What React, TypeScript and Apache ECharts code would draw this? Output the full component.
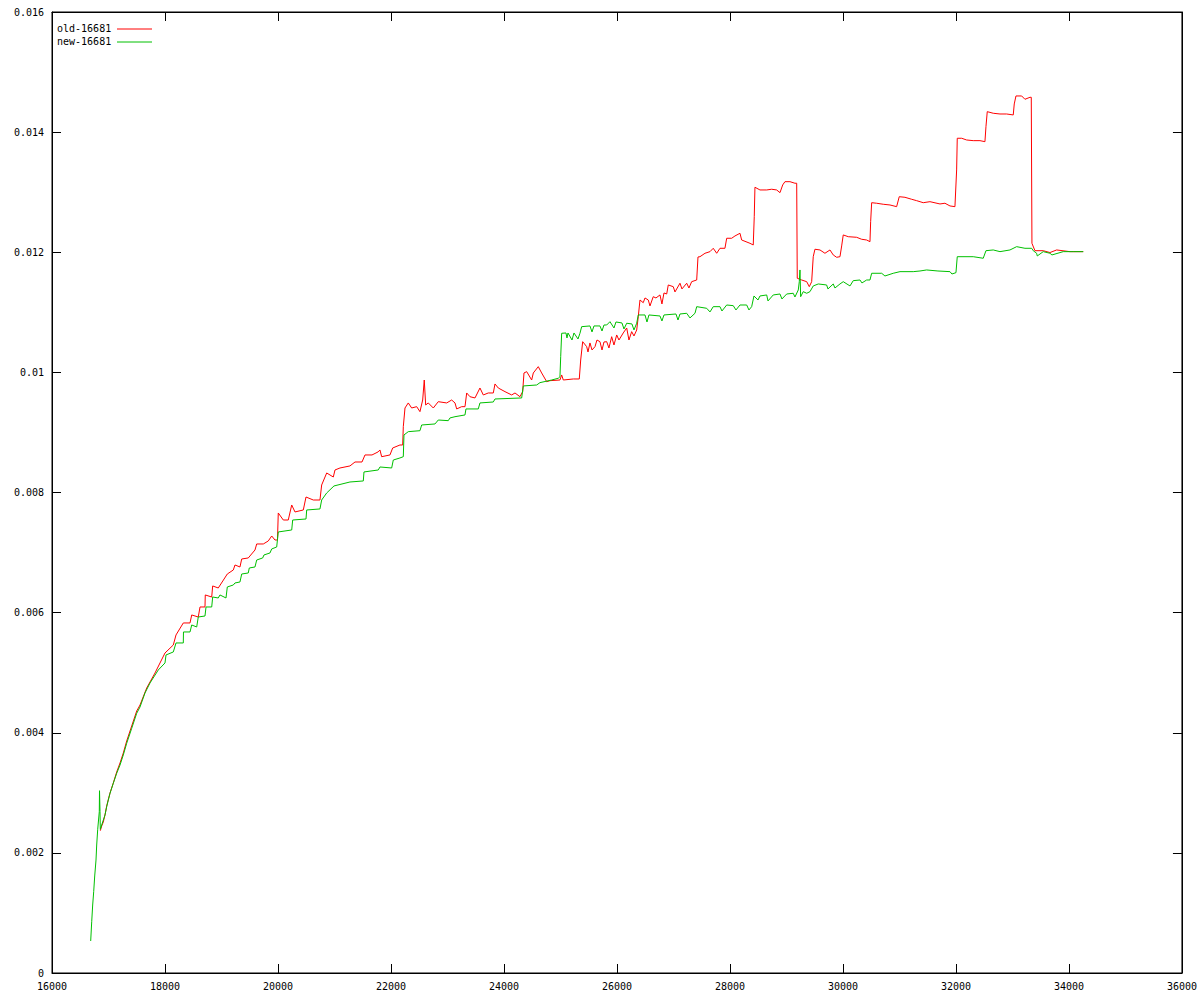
import React, { useEffect, useRef } from "react";
import * as echarts from "echarts";

// Axis ranges and tick labels
const X_MIN = 16000;
const X_MAX = 36000;
const X_STEP = 2000;
const Y_MIN = 0;
const Y_MAX = 0.016;
const Y_STEP = 0.002;

const SERIES_NAMES = ["old-16681", "new-16681"];
const SERIES_COLORS = ["#ff0000", "#00c000"];

// old-16681 : [x, y]
const OLD_16681: [number, number][] = [
  [16855, 0.002369], [16880, 0.002448], [16908, 0.002514], [16938, 0.002631], [16968, 0.002781],
  [17027, 0.002997], [17085, 0.003164], [17145, 0.003347], [17204, 0.003497], [17262, 0.003663],
  [17322, 0.003863], [17411, 0.004113], [17499, 0.004362], [17558, 0.004462], [17676, 0.004745],
  [17823, 0.004995], [18000, 0.005328], [18147, 0.005461], [18195, 0.005628], [18324, 0.005828],
  [18443, 0.005828], [18473, 0.005961], [18589, 0.005927], [18620, 0.006094], [18708, 0.006094],
  [18713, 0.006294], [18827, 0.00626], [18844, 0.006444], [18943, 0.00641], [19103, 0.006643],
  [19209, 0.00671], [19239, 0.006793], [19327, 0.00676], [19358, 0.006893], [19474, 0.00691],
  [19593, 0.007043], [19623, 0.007143], [19740, 0.007143], [19828, 0.007193], [19889, 0.007276],
  [19947, 0.007209], [19991, 0.007209], [20005, 0.007659], [20094, 0.007542], [20182, 0.007542],
  [20243, 0.007792], [20301, 0.007676], [20448, 0.007709], [20496, 0.007925], [20625, 0.007875],
  [20743, 0.007875], [20773, 0.008125], [20862, 0.008325], [20979, 0.008258], [21009, 0.008375],
  [21097, 0.008408], [21274, 0.008442], [21363, 0.008508], [21487, 0.008508], [21540, 0.008625],
  [21664, 0.008625], [21770, 0.008675], [21805, 0.008708], [21835, 0.008596], [21982, 0.008625],
  [22030, 0.008741], [22159, 0.008791], [22207, 0.008791], [22218, 0.009096], [22248, 0.009407],
  [22306, 0.009491], [22366, 0.009407], [22455, 0.009429], [22513, 0.009346], [22561, 0.00954],
  [22589, 0.009873], [22614, 0.009457], [22660, 0.009491], [22749, 0.009407], [22837, 0.009512],
  [22986, 0.009491], [23074, 0.00954], [23133, 0.009491], [23163, 0.009391], [23251, 0.009429],
  [23310, 0.009429], [23340, 0.009657], [23398, 0.009595], [23487, 0.009574], [23575, 0.00974],
  [23634, 0.009624], [23722, 0.009657], [23811, 0.009657], [23841, 0.009807], [23899, 0.00974],
  [24018, 0.009679], [24136, 0.009624], [24195, 0.009657], [24283, 0.009595], [24331, 0.009679],
  [24354, 0.00999], [24402, 0.010012], [24490, 0.009873], [24519, 0.00999], [24607, 0.010095],
  [24667, 0.00999], [24756, 0.009845], [24814, 0.009862], [24991, 0.009873], [25021, 0.009957],
  [25050, 0.009873], [25227, 0.00989], [25333, 0.00989], [25358, 0.010206], [25393, 0.010511],
  [25464, 0.010428], [25487, 0.01034], [25522, 0.01049], [25558, 0.010373], [25611, 0.010428],
  [25646, 0.010539], [25699, 0.010511], [25735, 0.010373], [25770, 0.010506], [25818, 0.010511],
  [25858, 0.010406], [25906, 0.010594], [25947, 0.010456], [25995, 0.010623], [26035, 0.010539],
  [26111, 0.010656], [26172, 0.010739], [26212, 0.010539], [26260, 0.010678], [26301, 0.010606],
  [26349, 0.010706], [26377, 0.010927], [26407, 0.011205], [26465, 0.01116], [26496, 0.011239],
  [26554, 0.011205], [26584, 0.011106], [26642, 0.01126], [26690, 0.011239], [26761, 0.011289],
  [26796, 0.011139], [26832, 0.011322], [26880, 0.011305], [26908, 0.011455], [26996, 0.011427],
  [27027, 0.011339], [27115, 0.011484], [27150, 0.011389], [27234, 0.011484], [27274, 0.011405],
  [27322, 0.01151], [27411, 0.011538], [27434, 0.011921], [27469, 0.011926], [27558, 0.011983],
  [27646, 0.01201], [27704, 0.012066], [27765, 0.011983], [27823, 0.012066], [27911, 0.012066],
  [27942, 0.012233], [28030, 0.012233], [28088, 0.012271], [28177, 0.012316], [28207, 0.012204],
  [28354, 0.012149], [28412, 0.012121], [28430, 0.012592], [28442, 0.013082], [28531, 0.013037],
  [28650, 0.013037], [28738, 0.013049], [28827, 0.013037], [28885, 0.012992], [28933, 0.01312],
  [28973, 0.013175], [29062, 0.013175], [29150, 0.013149], [29181, 0.013149], [29191, 0.011567],
  [29269, 0.011538], [29358, 0.01151], [29404, 0.011427], [29446, 0.01151], [29474, 0.011926],
  [29504, 0.01205], [29593, 0.012038], [29681, 0.011983], [29770, 0.012038], [29828, 0.011955],
  [29888, 0.011916], [29947, 0.011926], [29977, 0.012105], [30005, 0.012288], [30094, 0.012259],
  [30242, 0.012249], [30331, 0.012216], [30419, 0.012204], [30478, 0.012176], [30490, 0.012509],
  [30508, 0.012825], [30596, 0.012816], [30713, 0.012799], [30832, 0.012787], [30950, 0.012759],
  [30996, 0.012925], [31097, 0.012915], [31216, 0.012882], [31304, 0.012859], [31421, 0.012825],
  [31540, 0.012842], [31717, 0.012804], [31805, 0.012816], [31894, 0.012771], [31982, 0.012759],
  [32012, 0.01337], [32023, 0.013898], [32101, 0.013898], [32189, 0.013869], [32306, 0.013858],
  [32425, 0.013858], [32513, 0.013841], [32531, 0.014091], [32554, 0.014341], [32660, 0.014314],
  [32779, 0.014302], [32897, 0.014302], [33014, 0.014286], [33032, 0.014469], [33062, 0.014602],
  [33163, 0.014602], [33221, 0.014547], [33310, 0.01458], [33333, 0.01458], [33345, 0.012149],
  [33398, 0.012026], [33545, 0.012026], [33664, 0.011995], [33782, 0.012038], [34018, 0.01201],
  [34253, 0.01201],
];

// new-16681 : [x, y]
const NEW_16681: [number, number][] = [
  [16685, 0.000533], [16703, 0.000854], [16720, 0.001132], [16738, 0.001354], [16756, 0.001615],
  [16779, 0.001881], [16791, 0.002131], [16809, 0.002393], [16837, 0.002686], [16841, 0.003035],
  [16850, 0.002686], [16855, 0.002393], [16880, 0.002464], [16908, 0.002547], [16938, 0.002631],
  [16968, 0.002769], [16996, 0.00288], [17027, 0.002992], [17085, 0.003159], [17145, 0.003325],
  [17204, 0.003463], [17262, 0.00363], [17322, 0.003825], [17411, 0.004074], [17499, 0.004324],
  [17558, 0.004429], [17646, 0.004662], [17735, 0.004829], [17881, 0.005045], [18000, 0.005162],
  [18018, 0.005295], [18147, 0.005345], [18195, 0.005495], [18324, 0.005495], [18327, 0.005678],
  [18443, 0.005678], [18473, 0.005794], [18561, 0.005761], [18589, 0.005927], [18708, 0.005944],
  [18726, 0.006094], [18827, 0.006094], [18844, 0.00626], [18943, 0.006244], [18973, 0.006294],
  [19080, 0.006244], [19103, 0.006427], [19209, 0.00646], [19239, 0.006494], [19327, 0.00651],
  [19358, 0.006643], [19474, 0.00666], [19492, 0.006743], [19593, 0.00676], [19623, 0.006876],
  [19729, 0.00691], [19752, 0.00696], [19858, 0.006993], [19889, 0.00706], [19977, 0.007093],
  [20005, 0.007343], [20243, 0.007376], [20260, 0.007542], [20496, 0.007559], [20508, 0.007709],
  [20743, 0.007726], [20773, 0.007875], [20862, 0.007992], [20991, 0.008109], [21274, 0.008175],
  [21510, 0.008192], [21522, 0.008342], [21775, 0.008375], [21805, 0.008425], [22012, 0.008408],
  [22041, 0.008541], [22159, 0.008575], [22218, 0.008596], [22230, 0.008958], [22306, 0.009013],
  [22513, 0.009029], [22543, 0.009124], [22779, 0.009141], [22837, 0.009207], [23014, 0.009196],
  [23044, 0.009241], [23133, 0.009262], [23310, 0.009291], [23327, 0.009391], [23545, 0.009391],
  [23575, 0.009491], [23811, 0.009507], [23841, 0.009557], [24313, 0.009574], [24342, 0.009774],
  [24579, 0.00979], [24637, 0.009829], [24844, 0.009873], [24961, 0.009902], [24991, 0.009928],
  [25004, 0.010261], [25021, 0.010651], [25097, 0.010656], [25115, 0.010573], [25133, 0.010656],
  [25204, 0.010539], [25239, 0.010656], [25310, 0.010556], [25345, 0.010651], [25375, 0.010761],
  [25522, 0.010773], [25558, 0.010673], [25593, 0.010773], [25699, 0.010773], [25735, 0.010689],
  [25770, 0.010789], [25818, 0.010789], [25876, 0.010844], [25947, 0.010739], [25982, 0.010839],
  [26088, 0.010823], [26124, 0.010723], [26172, 0.010818], [26265, 0.010806], [26301, 0.010706],
  [26349, 0.010818], [26377, 0.010956], [26496, 0.010956], [26531, 0.010839], [26566, 0.010956],
  [26761, 0.010939], [26796, 0.010856], [26832, 0.010956], [27044, 0.010972], [27080, 0.010872],
  [27115, 0.010972], [27234, 0.010984], [27292, 0.010906], [27381, 0.010984], [27411, 0.011094],
  [27588, 0.011067], [27646, 0.011006], [27704, 0.011094], [27823, 0.011094], [27858, 0.011022],
  [27942, 0.011122], [28058, 0.011111], [28106, 0.011039], [28177, 0.011122], [28296, 0.011122],
  [28336, 0.011039], [28384, 0.011094], [28425, 0.011272], [28496, 0.011205], [28531, 0.011272],
  [28650, 0.011289], [28673, 0.011189], [28766, 0.011289], [28885, 0.011305], [28920, 0.011222],
  [29004, 0.011305], [29120, 0.011317], [29150, 0.011255], [29209, 0.011372], [29227, 0.01151],
  [29239, 0.011705], [29251, 0.01126], [29297, 0.011344], [29358, 0.011317], [29416, 0.011344],
  [29474, 0.011439], [29563, 0.011472], [29711, 0.011455], [29734, 0.011389], [29828, 0.011472],
  [29858, 0.011405], [29947, 0.011472], [30005, 0.01151], [30124, 0.011439], [30182, 0.011527],
  [30301, 0.011538], [30336, 0.011489], [30419, 0.011538], [30478, 0.011538], [30508, 0.01165],
  [30685, 0.01165], [30743, 0.011605], [30890, 0.01165], [31009, 0.011677], [31244, 0.011677],
  [31363, 0.011688], [31481, 0.011705], [31681, 0.011688], [31894, 0.011677], [31929, 0.011638],
  [32000, 0.01166], [32023, 0.011926], [32306, 0.011926], [32483, 0.0119], [32531, 0.012026],
  [32660, 0.012038], [32779, 0.01201], [32956, 0.012038], [33074, 0.012093], [33221, 0.012066],
  [33340, 0.012066], [33368, 0.012026], [33428, 0.011983], [33439, 0.011938], [33545, 0.01201],
  [33664, 0.011983], [33699, 0.011955], [33899, 0.01201], [34076, 0.01201], [34253, 0.01201],
];

const FONT = "'DejaVu Sans Mono', 'Liberation Mono', monospace";

export default function App() {
  const ref = useRef<HTMLDivElement>(null);

  useEffect(() => {
    if (!ref.current) return;
    const chart = echarts.init(ref.current, null, { renderer: "svg" });

    const xLabel = (v: number) => String(v);
    const yLabel = (v: number) => String(parseFloat(v.toFixed(3)));

    const baseX = {
      type: "value" as const,
      min: X_MIN,
      max: X_MAX,
      interval: X_STEP,
      splitLine: { show: false },
      axisLine: { show: true, onZero: false, lineStyle: { color: "#000", width: 1 } },
      axisTick: { show: true, inside: true, length: 9, lineStyle: { color: "#000", width: 1 } },
    };
    const baseY = {
      type: "value" as const,
      min: Y_MIN,
      max: Y_MAX,
      interval: Y_STEP,
      splitLine: { show: false },
      axisLine: { show: true, onZero: false, lineStyle: { color: "#000", width: 1 } },
      axisTick: { show: true, inside: true, length: 9, lineStyle: { color: "#000", width: 1 } },
    };

    const legendTop = 29;
    const legendGap = 13;

    chart.setOption({
      animation: false,
      backgroundColor: "#ffffff",
      grid: {
        left: 52,
        top: 12,
        width: 1130,
        height: 961,
        show: true,
        borderColor: "#000",
        borderWidth: 1,
        backgroundColor: "transparent",
      },
      xAxis: [
        {
          ...baseX,
          position: "bottom",
          axisLabel: {
            show: true,
            formatter: xLabel,
            color: "#000",
            fontFamily: FONT,
            fontSize: 10,
            margin: 8,
          },
        },
        {
          ...baseX,
          position: "top",
          axisLabel: { show: false },
        },
      ],
      yAxis: [
        {
          ...baseY,
          position: "left",
          axisLabel: {
            show: true,
            formatter: yLabel,
            color: "#000",
            fontFamily: FONT,
            fontSize: 10,
            margin: 8,
          },
        },
        {
          ...baseY,
          position: "right",
          axisLabel: { show: false },
        },
      ],
      series: [
        {
          name: SERIES_NAMES[0],
          type: "line",
          data: OLD_16681,
          showSymbol: false,
          symbol: "none",
          lineStyle: { color: SERIES_COLORS[0], width: 1 },
          itemStyle: { color: SERIES_COLORS[0] },
          z: 2,
        },
        {
          name: SERIES_NAMES[1],
          type: "line",
          data: NEW_16681,
          showSymbol: false,
          symbol: "none",
          lineStyle: { color: SERIES_COLORS[1], width: 1 },
          itemStyle: { color: SERIES_COLORS[1] },
          z: 3,
        },
      ],
      graphic: SERIES_NAMES.flatMap((name, i) => [
        {
          type: "text",
          left: 57,
          top: legendTop + i * legendGap - 6,
          style: {
            text: name,
            fill: "#000",
            fontFamily: FONT,
            fontSize: 10,
          },
        },
        {
          type: "line",
          shape: {
            x1: 117,
            y1: legendTop + i * legendGap,
            x2: 152,
            y2: legendTop + i * legendGap,
          },
          style: { stroke: SERIES_COLORS[i], lineWidth: 1 },
        },
      ]),
    });

    return () => chart.dispose();
  }, []);

  return (
    <div
      ref={ref}
      style={{ position: "fixed", left: 0, top: 0, width: 1200, height: 1000 }}
    />
  );
}
